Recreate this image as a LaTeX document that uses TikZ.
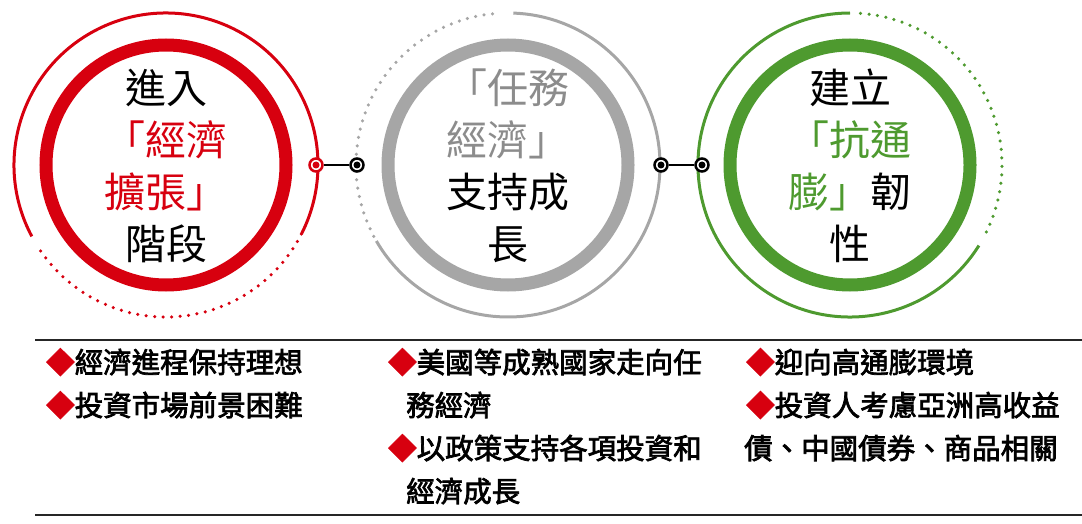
\documentclass[tikz,border=0pt]{standalone}
\usepackage{fontspec}
\newfontfamily\cjk{Noto Sans CJK TC}
\newfontfamily\cjkb[FakeBold=2.5]{Noto Sans CJK TC}
\usetikzlibrary{positioning}
\definecolor{myred}{HTML}{D7000F}
\definecolor{mygray}{HTML}{A6A6A6}
\definecolor{mygreen}{HTML}{4E9A2F}
\definecolor{graytext}{HTML}{8C8C8C}
\newcommand{\bul}{{\color{myred}◆}}
\begin{document}
\begin{tikzpicture}
[x=1pt,y=-1pt,
ring/.style={line width=13pt},
outring/.style={line width=3pt},
dotring/.style={line width=3.5pt,line cap=round,dash pattern=on 0pt off 8.5pt},
title/.style={align=center,font=\cjk\fontsize{41}{52}\selectfont,inner sep=0pt},
knob/.style={circle,draw,line width=2.5pt,fill=white,minimum size=13pt,inner sep=0pt,
  path picture={\fill[\knobcol] (path picture bounding box.center) circle (3.5pt);}},
item/.style={align=left,anchor=north west,inner sep=0pt,font=\cjkb\fontsize{28.5}{43}\selectfont}]
\useasboundingbox (0,0) rectangle (1082,524);
%% rings
\draw[ring,myred] (166,165) circle (120);
\draw[outring,myred] (166,165) ++(-208:152) arc (-208:27:152);
\draw[dotring,myred] (166,165) ++(-333:152) arc (-333:-212:152);
\draw[ring,mygray] (508,165) circle (120);
\draw[outring,mygray] (508,165) ++(-88:152) arc (-88:150:152);
\draw[dotring,mygray] (508,165) ++(-208:152) arc (-208:-93:152);
\draw[ring,mygreen] (850,165) circle (120);
\draw[outring,mygreen] (850,165) ++(-328:152) arc (-328:-90:152);
\draw[dotring,mygreen] (850,165) ++(-86:152) arc (-86:27:152);
%% titles
\node[title] (t1) at (166,166) {進入\\{\color{myred}「經濟}\\{\color{myred}擴張」}\\階段};
\node[title] (t2) at (508,166) {{\color{graytext}「任務}\\{\color{graytext}經濟」}\\支持成\\長};
\node[title] (t3) at (850,166) {建立\\{\color{mygreen}「抗通}\\{\color{mygreen}膨」}韌\\性};
%% knobs
\def\knobcol{myred}
\node[knob,draw=myred] (k1) at (316,165) {};
\def\knobcol{black}
\node[knob,draw=black] (k2) at (357,165) {};
\node[knob,draw=black] (k3) at (661,165) {};
\node[knob,draw=black] (k4) at (702,165) {};
\draw[line width=2.5pt] (k1) -- (k2);
\draw[line width=2.5pt] (k3) -- (k4);
%% table
\coordinate (a) at (35,340);
\coordinate (b) at (1082,340);
\coordinate (c) at (35,515);
\coordinate (d) at (1082,515);
\draw[line width=1.2pt,black!85] (a) -- (b);
\draw[line width=1.8pt,black!85] (c) -- (d);
\node[item] (c1) at (46,348) {\bul 經濟進程保持理想\\\bul 投資市場前景困難};
\node[item] (c2) at (388,348) {\bul 美國等成熟國家走向任\\\hspace{18pt}務經濟\\\bul 以政策支持各項投資和\\\hspace{18pt}經濟成長};
\node[item] (c3) at (744,348) {\hspace{2pt}\bul 迎向高通膨環境\\\hspace{2pt}\bul 投資人考慮亞洲高收益\\債、中國債券、商品相關};
\end{tikzpicture}
\end{document}
